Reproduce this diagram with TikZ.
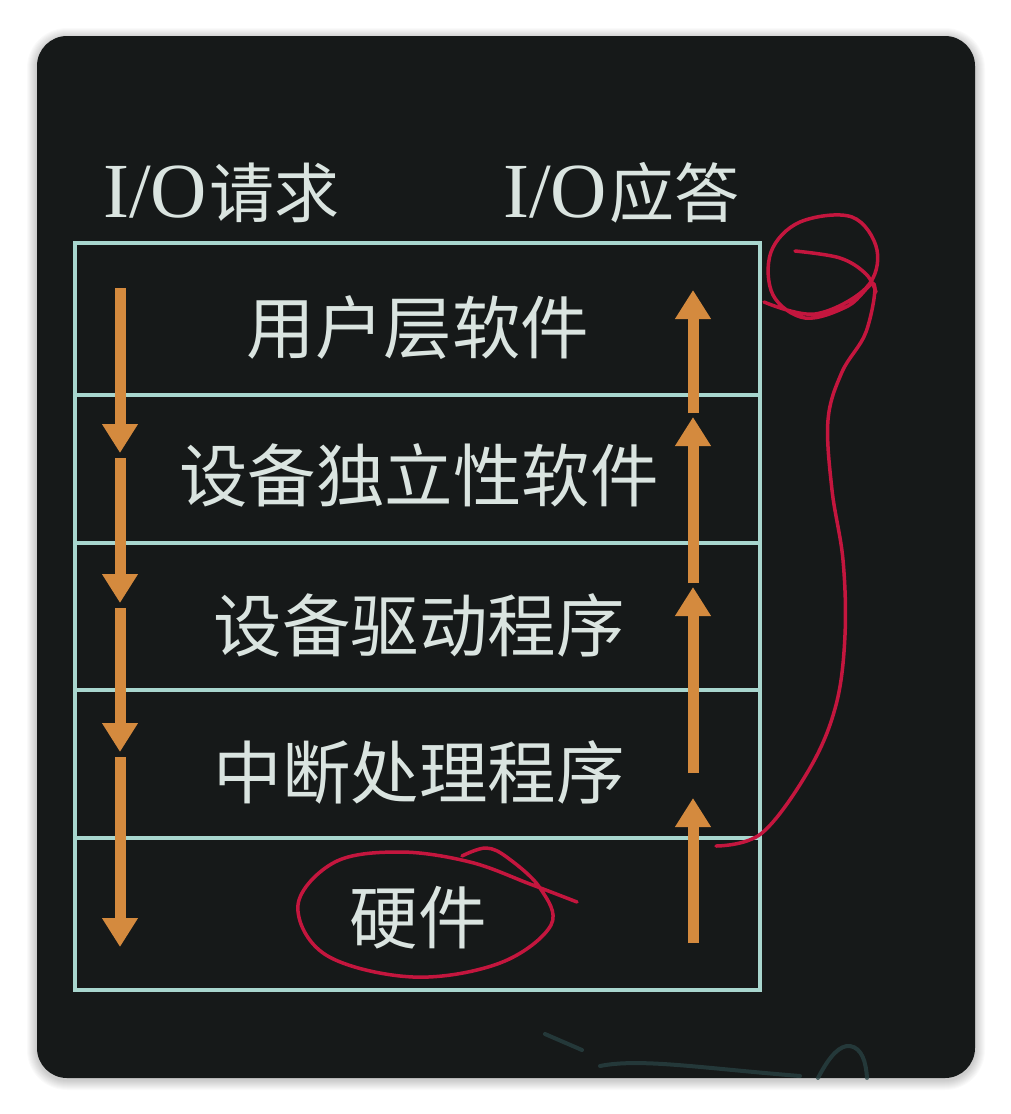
\documentclass[tikz,border=0pt]{standalone}
\usepackage{fontspec}
\setmainfont{Liberation Serif}
\newfontfamily\cjk{Noto Sans CJK SC}
\usetikzlibrary{arrows.meta}
\definecolor{board}{RGB}{22,25,25}
\definecolor{chalk}{RGB}{218,228,224}
\definecolor{lineteal}{RGB}{168,214,206}
\definecolor{arroworange}{RGB}{212,138,62}
\definecolor{redink}{RGB}{196,22,62}
\definecolor{faintink}{RGB}{42,70,72}
\begin{document}
\begin{tikzpicture}[x=1pt,y=-1pt,
  layer/.style={draw=lineteal, line width=3.5pt, minimum width=685pt, inner sep=0pt},
  lbl/.style={text=chalk, inner sep=0pt, font=\cjk\fontsize{68.5}{72}\selectfont},
  ttl/.style={text=chalk, inner sep=0pt, anchor=west},
  arr/.style={draw=arroworange, line width=11pt, -{Triangle[width=34pt,length=29pt]}},
  redpen/.style={draw=redink, line width=3.5pt, line cap=round, line join=round},
  faint/.style={draw=faintink, line width=4pt, line cap=round, opacity=0.7}]
\useasboundingbox (0,0) rectangle (1010,1114);
\fill[white] (0,0) rectangle (1010,1114);
% soft shadow
\foreach \i in {1,...,10}{
  \fill[black, opacity=0.018, rounded corners=30+\i] (37-\i,36-\i+2) rectangle (975+\i,1078+\i+2);
}
\fill[board, rounded corners=30] (37,36) rectangle (975,1078);

% layers
\node[layer, minimum height=152pt] (L1) at (417.5,319) {};
\node[layer, minimum height=148pt] (L2) at (417.5,469) {};
\node[layer, minimum height=147pt] (L3) at (417.5,616.5) {};
\node[layer, minimum height=148pt] (L4) at (417.5,764) {};
\node[layer, minimum height=152pt] (L5) at (417.5,914) {};

% labels
\node[lbl] (T1) at (418,328) {用户层软件};
\node[lbl] (T2) at (419,475) {设备独立性软件};
\node[lbl] (T3) at (419,625) {设备驱动程序};
\node[lbl] (T4) at (419,772) {中断处理程序};
\node[lbl] (T5) at (418,918) {硬件};

% titles
\node[ttl] (Q) at (103,193) {\fontsize{78}{80}\selectfont I/O\hspace{2pt}\cjk\fontsize{65}{67}\selectfont 请求};
\node[ttl] (A) at (503,193) {\fontsize{78}{80}\selectfont I/O\hspace{2pt}\cjk\fontsize{65}{67}\selectfont 应答};

% arrow coordinates
\coordinate (d1s) at (120,288); \coordinate (d1e) at (120,453);
\coordinate (d2s) at (120,458); \coordinate (d2e) at (120,603);
\coordinate (d3s) at (120,608); \coordinate (d3e) at (120,752);
\coordinate (d4s) at (120,757); \coordinate (d4e) at (120,947);
\coordinate (u1s) at (693,943); \coordinate (u1e) at (693,798);
\coordinate (u2s) at (693,773); \coordinate (u2e) at (693,587);
\coordinate (u3s) at (693,583); \coordinate (u3e) at (693,417);
\coordinate (u4s) at (693,413); \coordinate (u4e) at (693,290);
\draw[arr] (d1s) -- (d1e);
\draw[arr] (d2s) -- (d2e);
\draw[arr] (d3s) -- (d3e);
\draw[arr] (d4s) -- (d4e);
\draw[arr] (u1s) -- (u1e);
\draw[arr] (u2s) -- (u2e);
\draw[arr] (u3s) -- (u3e);
\draw[arr] (u4s) -- (u4e);

% red ellipse around hardware
\draw[redpen] plot[smooth, tension=0.6] coordinates {
  (577,902) (530,884) (470,862) (400,852) (335,862) (298,905) (326,955)
  (413,977) (500,963) (551,925) (540,888) (508,858) (486,848) (462,856)};

% red scribble on the right
\draw[redpen] plot[smooth, tension=0.6] coordinates {
  (764,302) (815,314) (866,288) (877,250) (852,217) (800,222) (771,252)
  (773,295) (805,318) (848,306) (874,284) (866,332) (842,372) (828,420)
  (832,490) (843,560) (845,635) (836,705) (810,768) (762,833) (716,846)};
\draw[redpen] plot[smooth, tension=0.6] coordinates {
  (795,251) (840,258) (866,274) (876,292)};

% faint chalk at bottom
\draw[faint] (545,1034) -- (582,1050);
\draw[faint] (600,1066) .. controls (640,1058) and (700,1068) .. (800,1076);
\draw[faint] (818,1078) .. controls (830,1055) and (840,1045) .. (850,1046) .. controls (862,1048) and (866,1062) .. (867,1078);
\end{tikzpicture}
\end{document}
